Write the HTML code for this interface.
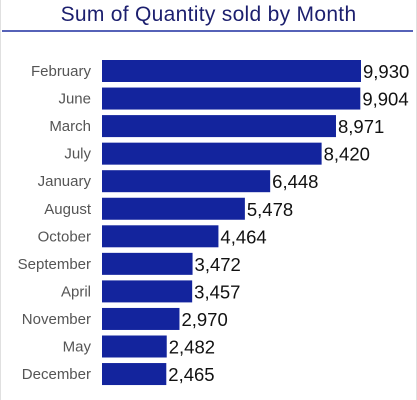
<!DOCTYPE html>
<html><head><meta charset="utf-8"><style>
body{margin:0;background:#fff;width:417px;height:400px;overflow:hidden;font-family:"Liberation Sans",sans-serif}
#frame{position:absolute;left:0;top:0;width:415px;height:400px;border-left:1px solid #e0e0e0;border-right:1px solid #e0e0e0}
#title{position:absolute;left:0;width:417px;top:3px;text-align:center;font-size:21px;letter-spacing:0.3px;color:#1c1f6e}
#rule{position:absolute;left:2px;width:411px;top:30px;height:2px;background:#5662b8}
</style></head><body>
<div id="frame"></div>
<div id="title">Sum of Quantity sold by Month</div>
<div id="rule"></div>
<svg id="chart" width="417" height="400" style="position:absolute;left:0;top:0"></svg>
<script>
const months=["February","June","March","July","January","August","October","September","April","November","May","December"];
const values=[9930,9904,8971,8420,6448,5478,4464,3472,3457,2970,2482,2465];
const labels=["9,930","9,904","8,971","8,420","6,448","5,478","4,464","3,472","3,457","2,970","2,482","2,465"];
const svg=document.getElementById('chart');
const NS='http://www.w3.org/2000/svg';
const x0=102,scale=259/9930;
function xs(v){return v*scale;}
function yc(i){return 71+i*27.55;}
months.forEach((m,i)=>{
  const r=document.createElementNS(NS,'rect');
  r.setAttribute('x',x0);r.setAttribute('y',yc(i)-11);
  r.setAttribute('width',xs(values[i]));r.setAttribute('height',22);
  r.setAttribute('fill','#13249d');
  
  
  svg.appendChild(r);
  const t=document.createElementNS(NS,'text');
  t.setAttribute('x',91);t.setAttribute('y',yc(i)+5);
  t.setAttribute('text-anchor','end');t.setAttribute('font-size','15');
  t.setAttribute('fill','#555');t.textContent=m;
  
  
  svg.appendChild(t);
  const v=document.createElementNS(NS,'text');
  v.setAttribute('x',x0+xs(values[i])+2);v.setAttribute('y',yc(i)+7);
  v.setAttribute('font-size','18.5');v.setAttribute('fill','#111');
  v.textContent=labels[i];
  
  
  svg.appendChild(v);
});
</script>
</body></html>
